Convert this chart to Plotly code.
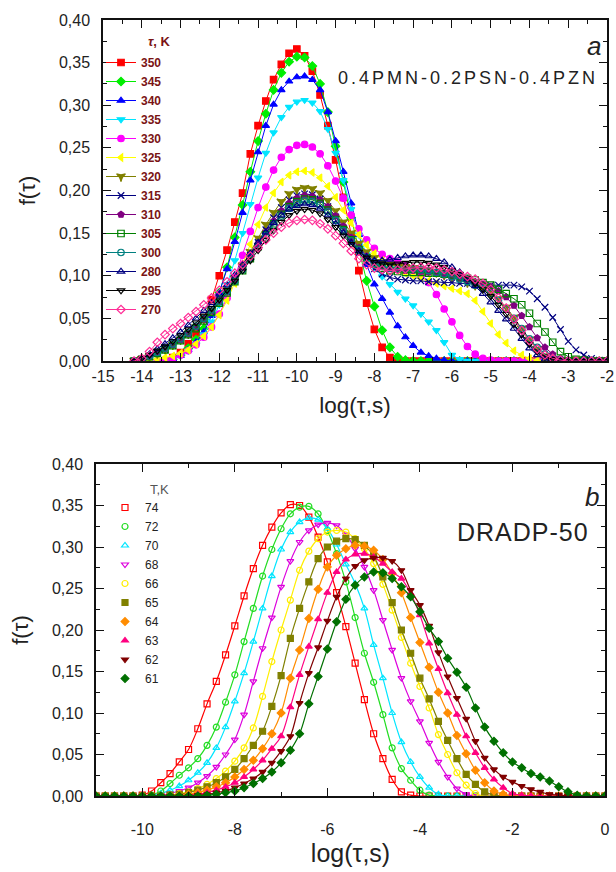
import plotly.graph_objects as go

# ---------- panel a: 0.4PMN-0.2PSN-0.4PZN ----------
LOG_TAU_A = [
    -14.2, -14.0, -13.8, -13.6, -13.4, -13.2, -13.0, -12.8, -12.6, -12.4,
    -12.2, -12.0, -11.8, -11.6, -11.4, -11.2, -11.0, -10.8, -10.6, -10.4,
    -10.2, -10.0, -9.8, -9.6, -9.4, -9.2, -9.0, -8.8, -8.6, -8.4,
    -8.2, -8.0, -7.8, -7.6, -7.4, -7.2, -7.0, -6.8, -6.6, -6.4,
    -6.2, -6.0, -5.8, -5.6, -5.4, -5.2, -5.0, -4.8, -4.6, -4.4,
    -4.2, -4.0, -3.8, -3.6, -3.4, -3.2, -3.0, -2.8, -2.6, -2.4,
    -2.2, -2.0,
]
TEMPS_A = ["350", "345", "340", "335", "330", "325", "320", "315", "310", "305", "300", "280", "295", "270"]

f350 = [None, None, None, None, 0.000, 0.004, 0.010, 0.020, 0.033, 0.050,
        0.072, 0.100, 0.130, 0.163, 0.197, 0.243, 0.276, 0.305, 0.330, 0.348,
        0.361, 0.366, 0.358, 0.340, 0.312, 0.276, 0.236, 0.192, 0.148, 0.106,
        0.068, 0.037, 0.016, 0.004, 0.001, 0, 0, 0, 0, 0,
        0, 0, 0, 0, 0, 0, 0, 0, 0, 0,
        0, 0, 0, 0, 0, 0, 0, 0, 0, 0,
        0, 0]
f345 = [None, None, None, None, 0.000, 0.002, 0.007, 0.015, 0.025, 0.038,
        0.056, 0.080, 0.110, 0.145, 0.183, 0.222, 0.258, 0.290, 0.318, 0.338,
        0.351, 0.357, 0.356, 0.346, 0.325, 0.292, 0.252, 0.210, 0.168, 0.130,
        0.094, 0.064, 0.036, 0.016, 0.005, 0.001, 0, 0, 0, 0,
        0, 0, 0, 0, 0, 0, 0, 0, 0, 0,
        0, 0, 0, 0, 0, 0, 0, 0, 0, 0,
        0, 0]
f340 = [None, None, None, None, 0.000, 0.002, 0.006, 0.013, 0.022, 0.034,
        0.053, 0.080, 0.108, 0.140, 0.174, 0.212, 0.245, 0.276, 0.301, 0.318,
        0.328, 0.333, 0.334, 0.330, 0.318, 0.292, 0.258, 0.222, 0.185, 0.148,
        0.113, 0.090, 0.073, 0.057, 0.041, 0.028, 0.018, 0.010, 0.006, 0.003,
        0.001, 0, 0, 0, 0, 0, 0, 0, 0, 0,
        0, 0, 0, 0, 0, 0, 0, 0, 0, 0,
        0, 0]
f335 = [None, None, None, None, 0.000, 0.002, 0.006, 0.012, 0.020, 0.031,
        0.046, 0.066, 0.090, 0.118, 0.150, 0.184, 0.215, 0.244, 0.268, 0.286,
        0.298, 0.304, 0.306, 0.303, 0.293, 0.272, 0.244, 0.212, 0.178, 0.148,
        0.125, 0.110, 0.099, 0.090, 0.081, 0.073, 0.065, 0.055, 0.046, 0.036,
        0.022, 0.007, 0.002, 0, 0, 0, 0, 0, 0, 0,
        0, 0, 0, 0, 0, 0, 0, 0, 0, 0,
        0, 0]
f330 = [None, None, None, 0.000, 0.001, 0.003, 0.007, 0.012, 0.019, 0.028,
        0.040, 0.055, 0.074, 0.098, 0.124, 0.152, 0.180, 0.204, 0.224, 0.239,
        0.248, 0.253, 0.254, 0.251, 0.243, 0.229, 0.211, 0.191, 0.171, 0.155,
        0.142, 0.132, 0.125, 0.120, 0.116, 0.112, 0.107, 0.100, 0.092, 0.078,
        0.061, 0.046, 0.030, 0.017, 0.008, 0.003, 0.001, 0, 0, 0,
        0, 0, 0, 0, 0, 0, 0, 0, 0, 0,
        0, 0]
f325 = [None, None, 0.001, 0.002, 0.004, 0.006, 0.009, 0.013, 0.020, 0.029,
        0.040, 0.054, 0.071, 0.091, 0.113, 0.137, 0.160, 0.180, 0.197, 0.210,
        0.218, 0.222, 0.223, 0.221, 0.215, 0.205, 0.192, 0.177, 0.162, 0.148,
        0.136, 0.126, 0.118, 0.112, 0.107, 0.103, 0.100, 0.097, 0.094, 0.091,
        0.088, 0.085, 0.082, 0.079, 0.071, 0.058, 0.044, 0.031, 0.021, 0.012,
        0.007, 0.003, 0.001, 0, 0, 0, 0, 0, 0, 0,
        0, 0]
f320 = [0.000, 0.002, 0.005, 0.009, 0.014, 0.019, 0.025, 0.032, 0.040, 0.049,
        0.059, 0.070, 0.083, 0.097, 0.112, 0.128, 0.144, 0.160, 0.174, 0.187,
        0.196, 0.201, 0.203, 0.202, 0.197, 0.188, 0.176, 0.163, 0.150, 0.138,
        0.128, 0.121, 0.116, 0.113, 0.111, 0.110, 0.109, 0.108, 0.106, 0.104,
        0.101, 0.098, 0.095, 0.092, 0.089, 0.085, 0.080, 0.073, 0.063, 0.051,
        0.038, 0.025, 0.014, 0.006, 0.002, 0.001, 0, 0, 0, 0,
        0, 0]
f315 = [0.000, 0.002, 0.005, 0.009, 0.013, 0.018, 0.024, 0.031, 0.039, 0.048,
        0.058, 0.069, 0.081, 0.095, 0.109, 0.124, 0.139, 0.154, 0.168, 0.180,
        0.189, 0.194, 0.196, 0.195, 0.190, 0.181, 0.169, 0.155, 0.141, 0.127,
        0.116, 0.108, 0.102, 0.098, 0.096, 0.095, 0.094, 0.094, 0.093, 0.093,
        0.092, 0.092, 0.091, 0.091, 0.090, 0.090, 0.089, 0.089, 0.089, 0.089,
        0.087, 0.082, 0.073, 0.063, 0.051, 0.037, 0.023, 0.013, 0.007, 0.003,
        0.001, 0.000]
f310 = [0.000, 0.002, 0.005, 0.009, 0.014, 0.019, 0.025, 0.032, 0.040, 0.049,
        0.059, 0.070, 0.082, 0.095, 0.109, 0.123, 0.137, 0.151, 0.164, 0.176,
        0.185, 0.191, 0.194, 0.193, 0.189, 0.181, 0.170, 0.158, 0.145, 0.133,
        0.123, 0.116, 0.111, 0.108, 0.107, 0.106, 0.106, 0.105, 0.104, 0.103,
        0.101, 0.099, 0.097, 0.095, 0.093, 0.090, 0.087, 0.082, 0.075, 0.065,
        0.053, 0.040, 0.027, 0.016, 0.008, 0.003, 0.001, 0, 0, 0,
        0, 0]
f305 = [0.000, 0.002, 0.005, 0.009, 0.013, 0.018, 0.024, 0.031, 0.038, 0.047,
        0.057, 0.068, 0.080, 0.093, 0.106, 0.120, 0.134, 0.148, 0.161, 0.172,
        0.181, 0.187, 0.190, 0.189, 0.185, 0.177, 0.166, 0.154, 0.142, 0.131,
        0.121, 0.114, 0.109, 0.106, 0.105, 0.104, 0.104, 0.104, 0.103, 0.103,
        0.102, 0.101, 0.099, 0.097, 0.095, 0.092, 0.089, 0.084, 0.079, 0.073,
        0.066, 0.056, 0.044, 0.034, 0.022, 0.011, 0.005, 0.002, 0.001, 0,
        0, 0]
f300 = [0.000, 0.002, 0.006, 0.010, 0.015, 0.020, 0.026, 0.033, 0.041, 0.050,
        0.060, 0.070, 0.082, 0.094, 0.107, 0.121, 0.134, 0.147, 0.159, 0.170,
        0.179, 0.185, 0.188, 0.187, 0.183, 0.175, 0.165, 0.153, 0.141, 0.130,
        0.121, 0.115, 0.111, 0.109, 0.108, 0.108, 0.108, 0.107, 0.106, 0.104,
        0.102, 0.099, 0.096, 0.093, 0.089, 0.085, 0.079, 0.071, 0.061, 0.050,
        0.038, 0.026, 0.016, 0.008, 0.003, 0.001, 0, 0, 0, 0,
        0, 0]
f280 = [0.000, 0.003, 0.008, 0.014, 0.020, 0.027, 0.034, 0.042, 0.050, 0.059,
        0.068, 0.078, 0.089, 0.101, 0.113, 0.126, 0.139, 0.151, 0.162, 0.171,
        0.178, 0.182, 0.184, 0.183, 0.179, 0.171, 0.161, 0.150, 0.139, 0.129,
        0.122, 0.118, 0.118, 0.119, 0.121, 0.123, 0.124, 0.124, 0.123, 0.120,
        0.116, 0.110, 0.104, 0.096, 0.088, 0.079, 0.069, 0.059, 0.049, 0.038,
        0.026, 0.015, 0.007, 0.002, 0.001, 0, 0, 0, 0, 0,
        0, 0]
f295 = [0.000, 0.003, 0.007, 0.012, 0.017, 0.023, 0.030, 0.037, 0.045, 0.053,
        0.062, 0.072, 0.083, 0.094, 0.106, 0.118, 0.130, 0.142, 0.153, 0.163,
        0.171, 0.176, 0.178, 0.177, 0.173, 0.166, 0.157, 0.147, 0.137, 0.128,
        0.121, 0.116, 0.114, 0.113, 0.114, 0.115, 0.116, 0.116, 0.115, 0.113,
        0.110, 0.106, 0.102, 0.097, 0.091, 0.084, 0.076, 0.066, 0.055, 0.043,
        0.031, 0.020, 0.011, 0.005, 0.002, 0.001, 0, 0, 0, 0,
        0, 0]
f270 = [0.000, 0.003, 0.011, 0.022, 0.031, 0.038, 0.044, 0.051, 0.058, 0.066,
        0.074, 0.083, 0.093, 0.103, 0.113, 0.123, 0.133, 0.142, 0.150, 0.157,
        0.162, 0.165, 0.166, 0.165, 0.161, 0.155, 0.147, 0.138, 0.129, 0.120,
        0.113, 0.109, 0.107, 0.106, 0.107, 0.108, 0.109, 0.110, 0.110, 0.109,
        0.107, 0.105, 0.102, 0.099, 0.096, 0.091, 0.084, 0.074, 0.062, 0.049,
        0.036, 0.024, 0.014, 0.007, 0.003, 0.001, 0, 0, 0, 0,
        0, 0]
SERIES_A = [f350, f345, f340, f335, f330, f325, f320, f315, f310, f305, f300, f280, f295, f270]

X_TICKS_A = [-15, -14, -13, -12, -11, -10, -9, -8, -7, -6, -5, -4, -3, -2]

# ---------- panel b: DRADP-50 ----------
LOG_TAU_B = [
    -11.0, -10.8, -10.6, -10.4, -10.2, -10.0, -9.8, -9.6, -9.4, -9.2,
    -9.0, -8.8, -8.6, -8.4, -8.2, -8.0, -7.8, -7.6, -7.4, -7.2,
    -7.0, -6.8, -6.6, -6.4, -6.2, -6.0, -5.8, -5.6, -5.4, -5.2,
    -5.0, -4.8, -4.6, -4.4, -4.2, -4.0, -3.8, -3.6, -3.4, -3.2,
    -3.0, -2.8, -2.6, -2.4, -2.2, -2.0, -1.8, -1.6, -1.4, -1.2,
    -1.0, -0.8, -0.6, -0.4, -0.2, 0.0,
]
TEMPS_B = ["74", "72", "70", "68", "66", "65", "64", "63", "62", "61"]

f74 = [0, 0, 0, 0, 0, 0.001, 0.006, 0.016, 0.027, 0.041,
       0.056, 0.081, 0.111, 0.138, 0.170, 0.205, 0.241, 0.274, 0.302, 0.324,
       0.341, 0.351, 0.350, 0.336, 0.312, 0.282, 0.245, 0.204, 0.160, 0.116,
       0.075, 0.045, 0.020, 0.005, 0.001, 0, 0, 0, 0, 0,
       0, 0, 0, 0, 0, 0, 0, 0, 0, 0,
       0, 0, 0, 0, 0, 0]
f72 = [0, 0, 0, 0, 0, 0, 0.001, 0.006, 0.015, 0.025,
       0.034, 0.045, 0.061, 0.083, 0.113, 0.146, 0.186, 0.226, 0.265, 0.297,
       0.322, 0.340, 0.348, 0.349, 0.340, 0.320, 0.292, 0.258, 0.215, 0.172,
       0.137, 0.098, 0.058, 0.033, 0.019, 0.007, 0.001, 0, 0, 0,
       0, 0, 0, 0, 0, 0, 0, 0, 0, 0,
       0, 0, 0, 0, 0, 0]
f70 = [0, 0, 0, 0, 0, 0, 0.001, 0.003, 0.007, 0.012,
       0.019, 0.028, 0.040, 0.058, 0.083, 0.114, 0.148, 0.186, 0.226, 0.265,
       0.297, 0.318, 0.330, 0.335, 0.333, 0.322, 0.303, 0.279, 0.256, 0.226,
       0.182, 0.142, 0.100, 0.065, 0.041, 0.023, 0.010, 0.002, 0, 0,
       0, 0, 0, 0, 0, 0, 0, 0, 0, 0,
       0, 0, 0, 0, 0, 0]
f68 = [0, 0, 0, 0, 0, 0, 0, 0.001, 0.003, 0.006,
       0.010, 0.016, 0.024, 0.035, 0.050, 0.068, 0.098, 0.138, 0.178, 0.215,
       0.252, 0.283, 0.306, 0.320, 0.327, 0.329, 0.326, 0.315, 0.298, 0.276,
       0.248, 0.212, 0.176, 0.142, 0.114, 0.090, 0.064, 0.041, 0.023, 0.009,
       0.002, 0, 0, 0, 0, 0, 0, 0, 0, 0,
       0, 0, 0, 0, 0, 0]
f66 = [0, 0, 0, 0, 0, 0, 0, 0, 0.001, 0.003,
       0.005, 0.009, 0.014, 0.021, 0.030, 0.042, 0.058, 0.082, 0.120, 0.162,
       0.200, 0.236, 0.272, 0.295, 0.310, 0.318, 0.320, 0.318, 0.310, 0.298,
       0.280, 0.255, 0.224, 0.191, 0.160, 0.132, 0.106, 0.074, 0.050, 0.028,
       0.013, 0.003, 0, 0, 0, 0, 0, 0, 0, 0,
       0, 0, 0, 0, 0, 0]
f65 = [0, 0, 0, 0, 0, 0, 0, 0, 0.001, 0.002,
       0.004, 0.007, 0.011, 0.016, 0.023, 0.032, 0.045, 0.061, 0.078, 0.108,
       0.145, 0.190, 0.226, 0.258, 0.286, 0.300, 0.307, 0.310, 0.309, 0.302,
       0.289, 0.264, 0.233, 0.200, 0.172, 0.142, 0.117, 0.090, 0.067, 0.045,
       0.026, 0.014, 0.005, 0.001, 0, 0, 0, 0, 0, 0,
       0, 0, 0, 0, 0, 0]
f64 = [0, 0, 0, 0, 0, 0, 0, 0, 0, 0.001,
       0.002, 0.004, 0.007, 0.011, 0.016, 0.023, 0.032, 0.043, 0.057, 0.075,
       0.100, 0.142, 0.176, 0.214, 0.249, 0.276, 0.290, 0.298, 0.302, 0.301,
       0.296, 0.285, 0.268, 0.245, 0.215, 0.185, 0.155, 0.125, 0.100, 0.073,
       0.051, 0.031, 0.016, 0.006, 0.002, 0, 0, 0, 0, 0,
       0, 0, 0, 0, 0, 0]
f63 = [0, 0, 0, 0, 0, 0, 0, 0, 0, 0,
       0.001, 0.002, 0.004, 0.007, 0.011, 0.016, 0.023, 0.032, 0.043, 0.057,
       0.072, 0.107, 0.146, 0.180, 0.213, 0.245, 0.270, 0.285, 0.291, 0.292,
       0.288, 0.280, 0.270, 0.262, 0.244, 0.218, 0.184, 0.153, 0.124, 0.098,
       0.072, 0.052, 0.034, 0.020, 0.010, 0.003, 0.001, 0, 0, 0,
       0, 0, 0, 0, 0, 0]
f62 = [0, 0, 0, 0, 0, 0, 0, 0, 0, 0,
       0, 0.001, 0.002, 0.004, 0.006, 0.010, 0.015, 0.021, 0.029, 0.040,
       0.054, 0.072, 0.112, 0.148, 0.179, 0.211, 0.240, 0.262, 0.277, 0.284,
       0.287, 0.287, 0.283, 0.272, 0.248, 0.230, 0.205, 0.173, 0.144, 0.118,
       0.093, 0.066, 0.046, 0.032, 0.023, 0.017, 0.012, 0.008, 0.005, 0.002,
       0.001, 0, 0, 0, 0, 0]
f61 = [0, 0, 0, 0, 0, 0, 0, 0, 0, 0,
       0, 0, 0.001, 0.002, 0.004, 0.006, 0.010, 0.015, 0.021, 0.029,
       0.040, 0.055, 0.075, 0.111, 0.144, 0.177, 0.210, 0.237, 0.254, 0.264,
       0.270, 0.269, 0.262, 0.252, 0.240, 0.222, 0.202, 0.186, 0.166, 0.149,
       0.131, 0.106, 0.083, 0.066, 0.052, 0.041, 0.034, 0.027, 0.023, 0.018,
       0.011, 0.005, 0.001, 0, 0, 0]
SERIES_B = [f74, f72, f70, f68, f66, f65, f64, f63, f62, f61]

X_TICKS_B = [-10, -8, -6, -4, -2, 0]
Y_TICKS = [0.00, 0.05, 0.10, 0.15, 0.20, 0.25, 0.30, 0.35, 0.40]

# styles (Origin-like)
COLORS_A = ["#ff0000", "#00ee00", "#0000ff", "#00e5ff", "#ff00ff", "#ffff00", "#808000",
            "#000080", "#800080", "#008000", "#008080", "#000080", "#000000", "#ff2d96"]
SYMBOLS_A = ["square", "diamond", "triangle-up", "triangle-down", "circle", "triangle-left",
             "star-triangle-down", "x-thin-open", "pentagon", "square-open", "circle-open",
             "triangle-up-open", "triangle-down-open", "diamond-open"]
COLORS_B = ["#ff0000", "#22dd22", "#00e5ff", "#dd00dd", "#ffee00", "#808000",
            "#ff8c00", "#ff0080", "#800000", "#007000"]
SYMBOLS_B = ["square-open", "circle-open", "triangle-up-open", "triangle-down-open", "circle-open",
             "square", "diamond", "triangle-up", "triangle-down", "diamond"]

W, H = 616, 872
FONT = "Liberation Sans, Arial, sans-serif"
MAROON = "#7a1414"


def px(x):
    return x / W


def py(y):
    return 1 - y / H


fig = go.Figure()

for name, ys, c, s in zip(TEMPS_A, SERIES_A, COLORS_A, SYMBOLS_A):
    fig.add_trace(go.Scatter(
        x=LOG_TAU_A, y=ys, name=name, mode="lines+markers",
        line=dict(color=c, width=1),
        marker=dict(symbol=s, size=6.5, color=c, line=dict(color=c, width=1.2)),
        xaxis="x", yaxis="y", legend="legend",
    ))

for name, ys, c, s in zip(TEMPS_B, SERIES_B, COLORS_B, SYMBOLS_B):
    # fitted curve
    fig.add_trace(go.Scatter(
        x=LOG_TAU_B, y=ys, mode="lines", line=dict(color=c, width=1.2, shape="spline"),
        showlegend=False, hoverinfo="skip", xaxis="x2", yaxis="y2",
    ))
    fig.add_trace(go.Scatter(
        x=LOG_TAU_B, y=ys, name=name, mode="markers",
        marker=dict(symbol=s, size=6, color=c, line=dict(color=c, width=1.2)),
        xaxis="x2", yaxis="y2", legend="legend2",
    ))


def xax(domain, anchor, rng, ticks, minor_dtick, title_size, label_gap, standoff):
    return dict(
        domain=domain, anchor=anchor, range=rng, automargin=False,
        tickmode="array", tickvals=ticks, ticktext=[str(t) for t in ticks],
        ticks="inside", ticklen=8, tickwidth=1.3, tickcolor="#111",
        minor=dict(ticks="inside", ticklen=4, tickwidth=1.2, tickcolor="#111",
                   tickmode="linear", tick0=rng[0], dtick=minor_dtick),
        showline=True, linecolor="#111", linewidth=1.5, mirror="ticks",
        showgrid=False, zeroline=False, ticklabeloverflow="allow",
        ticklabelstandoff=label_gap,
        tickfont=dict(family=FONT, size=16, color="#222"),
        title=dict(text="log(τ,s)", font=dict(family=FONT, size=title_size, color="#222"),
                   standoff=standoff),
    )


def yax(domain, anchor):
    return dict(
        domain=domain, anchor=anchor, range=[0, 0.4], automargin=False,
        tickmode="array", tickvals=Y_TICKS, tickformat=".2f",
        ticks="inside", ticklen=8, tickwidth=1.3, tickcolor="#111",
        minor=dict(ticks="inside", ticklen=4, tickwidth=1.2, tickcolor="#111",
                   tickmode="linear", tick0=0, dtick=0.025),
        showline=True, linecolor="#111", linewidth=1.5, mirror="ticks",
        showgrid=False, zeroline=False, ticklabelstandoff=8, ticklabeloverflow="allow",
        tickfont=dict(family=FONT, size=16, color="#222"),
        title=dict(text="f(τ)", font=dict(family=FONT, size=22, color="#222"), standoff=17),
    )


fig.update_layout(
    width=W, height=H,
    margin=dict(l=0, r=0, t=0, b=0, autoexpand=False),
    paper_bgcolor="white", plot_bgcolor="white",
    separators=", ",
    xaxis=xax([px(103), px(607)], "y", [-15, -2], X_TICKS_A, 0.5, 22.5, 0, 13),
    yaxis=yax([py(361), py(20)], "x"),
    xaxis2=xax([px(96), px(605)], "y2", [-11, 0], X_TICKS_B, 1, 25, 18, 8),
    yaxis2=yax([py(796), py(464)], "x2"),
    legend=dict(
        x=px(101), y=py(48), xanchor="left", yanchor="top",
        bgcolor="rgba(0,0,0,0)", itemwidth=30, tracegroupgap=0,
        font=dict(family="Liberation Sans Narrow, " + FONT, size=12, color=MAROON, weight="bold"),
    ),
    legend2=dict(
        x=px(105), y=py(493), xanchor="left", yanchor="top",
        bgcolor="rgba(0,0,0,0)", itemwidth=30, tracegroupgap=0,
        font=dict(family=FONT, size=12, color="#222"),
    ),
    annotations=[
        dict(text="<i>τ</i>, K", x=px(160), y=py(41), xref="paper", yref="paper",
             xanchor="center", yanchor="middle", showarrow=False,
             font=dict(family=FONT, size=13, color=MAROON, weight="bold")),
        dict(text="T,K", x=px(160), y=py(489), xref="paper", yref="paper",
             xanchor="center", yanchor="middle", showarrow=False,
             font=dict(family=FONT, size=13, color="#555")),
        dict(text="<i>a</i>", x=px(603), y=py(46), xref="paper", yref="paper",
             xanchor="right", yanchor="middle", showarrow=False,
             font=dict(family=FONT, size=26, color="#222")),
        dict(text='<span style="letter-spacing:3px">0.4PMN-0.2PSN-0.4PZN</span>',
             x=px(600), y=py(78), xref="paper", yref="paper",
             xanchor="right", yanchor="middle", showarrow=False,
             font=dict(family=FONT, size=18, color="#222")),
        dict(text="<i>b</i>", x=px(601), y=py(497), xref="paper", yref="paper",
             xanchor="right", yanchor="middle", showarrow=False,
             font=dict(family=FONT, size=26, color="#222")),
        dict(text='<span style="letter-spacing:1px">DRADP-50</span>',
             x=px(591), y=py(532), xref="paper", yref="paper",
             xanchor="right", yanchor="middle", showarrow=False,
             font=dict(family=FONT, size=25, color="#222")),
    ],
)

# drop the default page margin so the 616x872 figure fills the window exactly
fig.write_html("out.html", config={"displayModeBar": False},
               post_script="document.body.style.margin='0';"
                           "document.body.style.overflow='hidden';")
